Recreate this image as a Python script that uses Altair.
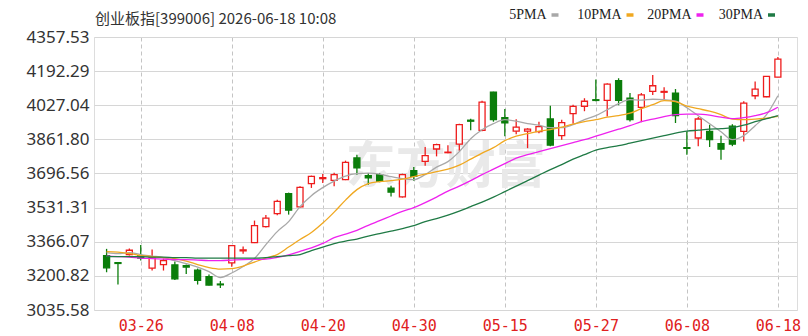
import altair as alt
import pandas as pd

# ---------------- data ----------------
dates = ["03-23", "03-24", "03-25", "03-26", "03-27", "03-30", "03-31", "04-01", "04-02", "04-03",
         "04-07", "04-08", "04-09", "04-10", "04-13", "04-14", "04-15", "04-16", "04-17", "04-20",
         "04-21", "04-22", "04-23", "04-24", "04-27", "04-28", "04-29", "04-30", "05-06", "05-07",
         "05-08", "05-11", "05-12", "05-13", "05-14", "05-15", "05-18", "05-19", "05-20", "05-21",
         "05-22", "05-25", "05-26", "05-27", "05-28", "05-29", "06-01", "06-02", "06-03", "06-04",
         "06-05", "06-08", "06-09", "06-10", "06-11", "06-12", "06-15", "06-16", "06-17", "06-18"]

open_ = [3299.2, 3265.0, 3304.0, 3299.2, 3238.7, 3255.7, 3254.2, 3250.8, 3228.1, 3197.6,
         3161.3, 3263.9, 3321.9, 3362.1, 3439.5, 3502.4, 3599.1, 3534.8, 3647.5, 3671.6,
         3663.4, 3666.8, 3771.8, 3686.2, 3691.0, 3625.7, 3583.1, 3710.3, 3755.3, 3815.3,
         3797.4, 3838.5, 3954.6, 3905.3, 4090.0, 3966.7, 3901.4, 3901.4, 3899.0, 3960.4,
         3879.6, 3986.1, 4022.3, 4053.8, 4050.4, 4145.6, 4062.0, 4017.2, 4093.9, 4090.0,
         4085.2, 3821.6, 3868.5, 3900.4, 3840.9, 3925.6, 3900.4, 4073.1, 4068.3, 4163.6]
high = [3331.6, 3267.0, 3333.0, 3350.0, 3328.2, 3284.7, 3270.2, 3255.7, 3236.3, 3207.3,
        3175.8, 3350.0, 3342.7, 3468.5, 3495.1, 3570.0, 3603.9, 3635.4, 3686.2, 3694.4,
        3700.7, 3758.7, 3787.7, 3699.2, 3698.3, 3637.8, 3695.8, 3728.2, 3825.0, 3840.9,
        3833.7, 3937.7, 3961.9, 4048.9, 4092.5, 4008.8, 3959.5, 3915.9, 3947.4, 4024.7,
        3957.0, 4029.6, 4061.0, 4151.8, 4133.6, 4157.7, 4086.2, 4086.2, 4173.8, 4114.2,
        4105.5, 3900.4, 3970.1, 3932.8, 3879.6, 3935.2, 4046.5, 4142.3, 4167.4, 4260.3]
low = [3218.4, 3159.0, 3299.0, 3275.0, 3226.6, 3226.6, 3180.7, 3209.7, 3158.9, 3154.1,
       3142.0, 3244.8, 3307.4, 3359.7, 3434.6, 3494.1, 3497.5, 3531.4, 3626.7, 3650.8,
       3634.4, 3664.4, 3691.0, 3642.6, 3653.8, 3584.6, 3579.8, 3661.0, 3734.5, 3779.5,
       3795.0, 3807.1, 3906.2, 3901.4, 3947.4, 3877.2, 3886.9, 3819.3, 3891.7, 3828.9,
       3860.3, 3937.7, 3998.1, 4046.5, 3973.0, 4027.2, 3948.8, 3944.9, 4077.0, 4053.8,
       3941.0, 3787.7, 3828.9, 3825.0, 3763.5, 3828.9, 3852.1, 4056.2, 4065.9, 4162.6]
close = [3239.7, 3261.0, 3324.8, 3287.1, 3291.9, 3275.0, 3186.5, 3243.6, 3179.7, 3156.5,
         3157.5, 3347.6, 3326.8, 3444.3, 3480.6, 3562.0, 3519.0, 3629.6, 3682.8, 3676.5,
         3691.0, 3750.5, 3723.4, 3675.1, 3658.6, 3606.3, 3691.0, 3682.8, 3782.9, 3836.1,
         3799.8, 3932.9, 3949.8, 4041.7, 3957.0, 3942.4, 3920.8, 3911.1, 3923.2, 3833.7,
         3942.5, 4021.4, 4046.5, 4050.4, 4129.7, 4051.3, 3957.0, 4077.1, 4121.5, 4093.9,
         3976.4, 3818.2, 3960.4, 3860.3, 3814.3, 3838.5, 4037.8, 4105.5, 4166.5, 4250.6]

ma5 = [3313.7, 3308.9, 3313.7, 3304.1, 3296.8, 3289.5, 3275.0, 3260.5, 3243.6, 3221.8,
       3192.8, 3214.6, 3246.0, 3284.7, 3352.4, 3415.3, 3463.7, 3536.2, 3589.4, 3628.1,
       3659.6, 3683.8, 3695.9, 3698.3, 3693.4, 3681.4, 3671.7, 3666.8, 3691.0, 3727.3,
       3753.9, 3802.3, 3865.2, 3908.7, 3937.7, 3957.1, 3949.8, 3937.7, 3930.5, 3918.4,
       3918.4, 3932.9, 3957.1, 3976.4, 4005.4, 4034.5, 4053.8, 4051.4, 4056.2, 4053.8,
       4046.5, 4015.1, 3976.4, 3937.7, 3899.0, 3860.3, 3879.7, 3928.0, 3981.2, 4073.1]
ma10 = [3318.6, 3316.2, 3308.9, 3299.2, 3294.4, 3289.5, 3284.7, 3272.6, 3255.7, 3241.2,
        3233.9, 3236.3, 3248.4, 3267.8, 3287.1, 3304.1, 3340.3, 3376.6, 3410.5, 3456.4,
        3509.6, 3567.7, 3618.5, 3647.5, 3657.2, 3662.0, 3669.3, 3681.4, 3693.4, 3705.5,
        3717.6, 3737.0, 3766.0, 3795.0, 3821.6, 3855.5, 3877.2, 3889.3, 3901.4, 3908.7,
        3920.8, 3935.3, 3947.4, 3957.1, 3969.2, 3976.4, 3988.5, 4010.3, 4029.6, 4049.0,
        4044.1, 4022.4, 4010.3, 3998.2, 3981.2, 3959.5, 3957.1, 3959.5, 3964.3, 3973.0]
ma20 = [3296.8, 3294.4, 3292.0, 3287.1, 3284.7, 3282.3, 3279.9, 3279.9, 3277.5, 3275.0,
        3275.0, 3277.5, 3279.9, 3280.8, 3282.3, 3290.5, 3303.1, 3319.5, 3336.5, 3357.8,
        3386.3, 3403.2, 3421.6, 3445.8, 3468.0, 3490.8, 3513.0, 3531.4, 3555.6, 3582.2,
        3611.2, 3635.4, 3662.0, 3691.0, 3717.6, 3744.2, 3770.8, 3787.8, 3802.3, 3816.8,
        3831.3, 3845.8, 3860.3, 3877.2, 3894.2, 3911.1, 3928.0, 3947.4, 3959.5, 3971.6,
        3981.2, 3983.7, 3983.7, 3978.8, 3969.2, 3961.9, 3966.7, 3976.4, 3990.9, 4017.5]
ma30 = [3294.4, 3294.4, 3294.4, 3294.4, 3292.0, 3292.0, 3289.5, 3289.5, 3287.1, 3287.1,
        3287.1, 3287.1, 3287.1, 3287.1, 3289.5, 3294.4, 3299.2, 3304.1, 3323.4, 3340.3,
        3357.3, 3369.4, 3379.0, 3393.6, 3405.6, 3417.7, 3429.8, 3444.3, 3463.7, 3478.2,
        3495.1, 3514.5, 3536.2, 3558.0, 3582.2, 3608.8, 3635.4, 3662.0, 3688.6, 3715.2,
        3739.4, 3766.0, 3787.8, 3809.5, 3821.6, 3831.3, 3843.4, 3855.5, 3867.6, 3879.7,
        3891.8, 3901.4, 3906.3, 3911.1, 3913.5, 3918.4, 3930.5, 3947.4, 3961.9, 3976.4]

series_names = ["5PMA", "10PMA", "20PMA", "30PMA"]
series_colors = ["#a8a8a8", "#f0a820", "#ee22ee", "#1f7a45"]

y_ticks = [3035.58, 3200.82, 3366.07, 3531.31, 3696.56, 3861.80, 4027.04, 4192.29, 4357.53]
label_dates = ["03-26", "04-08", "04-20", "04-30", "05-15", "05-27", "06-08", "06-18"]

title_text = "创业板指[399006] 2026-06-18 10:08"
watermark = "东方财富"

# ---------------- tables ----------------
n = len(dates)
candles = pd.DataFrame({
    "idx": list(range(n)), "date": dates,
    "open": open_, "high": high, "low": low, "close": close,
})
ma_rows = []
for name, vals in zip(series_names, [ma5, ma10, ma20, ma30]):
    for i, v in enumerate(vals):
        ma_rows.append({"idx": i, "series": name, "value": v})
ma_df = pd.DataFrame(ma_rows)

tick_idx = [dates.index(d) for d in label_dates]
label_js = "[" + ",".join("'%s'" % d for d in dates) + "]"

RED = "#ee1c1c"
GREEN = "#0b7d0b"
up = "datum.close >= datum.open"

x_scale = alt.Scale(domain=[-0.667, 60.24], nice=False, zero=False)
y_scale = alt.Scale(domain=[y_ticks[0], y_ticks[-1]], nice=False, zero=False)

x_axis = alt.Axis(values=tick_idx, labelExpr=label_js + "[datum.value]", title=None,
                  grid=True, gridDash=[4, 3], gridColor="#c4c4c4", gridWidth=1,
                  domain=False, ticks=False, labelColor="#e02020", labelFont="DejaVu Sans Mono",
                  labelFontSize=15, labelPadding=8, labelFlush=False)
y_axis = alt.Axis(values=y_ticks, format=".2f", title=None, grid=True, gridColor="#d6d6d6",
                  gridWidth=1, domain=False, ticks=False, labelColor="#333333",
                  labelFont="Noto Sans", labelFontSize=17, labelPadding=5)


def X(field):
    return alt.X(field, scale=x_scale, axis=x_axis, title=None)


def Y(field):
    return alt.Y(field, scale=y_scale, axis=y_axis, title=None)


# watermark
wm = alt.Chart(pd.DataFrame({"t": [watermark], "x": [29.8], "y": [3725.0]})).mark_text(
    font="Noto Sans CJK SC", fontSize=50, fontWeight="bold", color="#e9e9e9"
).encode(x=X("x:Q"), y=Y("y:Q"), text="t:N")

wicks = alt.Chart(candles).mark_rule(strokeWidth=1.3).encode(
    x=X("idx:Q"), y=Y("low:Q"), y2="high:Q",
    color=alt.condition(up, alt.value(RED), alt.value(GREEN)),
)

bodies = alt.Chart(candles).mark_bar(size=6, strokeWidth=1.3, fillOpacity=1).encode(
    x=X("idx:Q"), y=Y("open:Q"), y2="close:Q",
    fill=alt.condition(up, alt.value("#ffffff"), alt.value(GREEN)),
    stroke=alt.condition(up, alt.value(RED), alt.value(GREEN)),
)

lines = alt.Chart(ma_df).mark_line(strokeWidth=1.3, interpolate="monotone").encode(
    x=X("idx:Q"), y=Y("value:Q"),
    color=alt.Color("series:N", scale=alt.Scale(domain=series_names, range=series_colors),
                    legend=None),
    detail="series:N",
)

# title and custom legend (label followed by a short colour dash); layout positions in px
title_layer = alt.Chart(pd.DataFrame({"t": [title_text]})).mark_text(
    align="left", baseline="middle", font="Noto Sans CJK SC", fontSize=15, color="#333333"
).encode(x=alt.value(1), y=alt.value(-18), text="t:N")

legend_dash_x = [457.5, 532.5, 602.5, 674.0]
legend_y = -22
legend_layers = []
for name, col, dx in zip(series_names, series_colors, legend_dash_x):
    src = alt.Chart(pd.DataFrame({"s": [name]}))
    legend_layers.append(src.mark_text(align="right", baseline="middle", font="Liberation Serif",
                                       fontSize=14, color="#222222").encode(
        x=alt.value(dx - 5), y=alt.value(legend_y), text="s:N"))
    legend_layers.append(src.mark_rule(strokeWidth=3.5, color=col).encode(
        x=alt.value(dx), x2=alt.value(dx + 7), y=alt.value(legend_y)))

chart = alt.layer(wm, wicks, bodies, lines, title_layer, *legend_layers).properties(
    width=703, height=273,
    autosize=alt.AutoSizeParams(type="none"),
    padding={"left": 94, "top": 37, "right": 11, "bottom": 26},
).configure_view(stroke="#a0a0a0", strokeWidth=1).configure(background="#ffffff")

chart.save("out.html", embed_options={"renderer": "svg", "actions": False})
